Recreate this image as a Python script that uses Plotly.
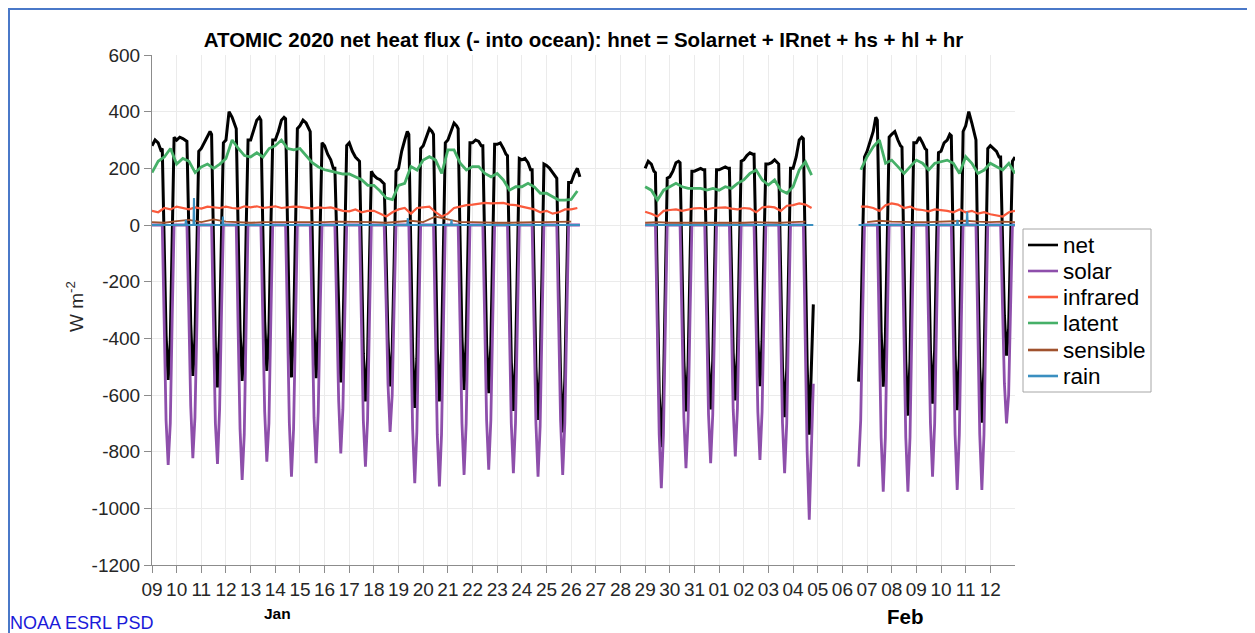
import pandas as pd
import plotly.graph_objects as go

N = None

# ---------------- data ----------------
DAYS = pd.date_range("2020-01-09", "2020-02-13", freq="D")          # 36 days
TICK_DAYS = pd.date_range("2020-01-09", "2020-02-12", freq="D")
DIURNAL_HOURS = [0, 3, 6, 8.5, 10.0, 11.8, 13.7, 15.75, 17.8, 19.7, 21.5]
FLUX_HOURS = [0, 6, 12, 18]
SENS_HOURS = [0, 12]

net_by_day = [
    [280, 300, 290, 265, 270, -30, -390, -547, -410, -40, 310],    # 09 Jan
    [300, 310, 305, 300, 295, -10, -350, -533, -400, -80, 260],    # 10
    [270, 290, 310, 330, 320, -70, -430, -573, -380, -25, 290],    # 11
    [300, 400, 380, 350, 340, -10, -370, -550, -400, -10, 300],    # 12
    [300, 340, 370, 380, 370, 0, -340, -515, -380, -10, 300],      # 13
    [300, 330, 370, 380, 375, 20, -350, -538, -380, -10, 340],     # 14
    [350, 370, 360, 340, 330, 0, -370, -541, -360, -10, 290],      # 15
    [280, 250, 230, 200, 200, -45, -365, -556, -400, -60, 280],    # 16
    [290, 260, 240, 230, 225, -95, -455, -623, -470, -120, 190],   # 17
    [175, 165, 160, 150, 145, -100, -400, -570, -445, -130, 190],  # 18
    [200, 260, 300, 330, 320, -85, -455, -646, -470, -85, 270],    # 19
    [280, 310, 340, 330, 320, -55, -435, -623, -450, -70, 290],    # 20
    [300, 330, 360, 350, 340, -35, -395, -582, -410, -50, 290],    # 21
    [290, 300, 295, 280, 280, -60, -420, -594, -425, -70, 285],    # 22
    [285, 290, 270, 250, 245, -120, -480, -656, -485, -130, 235],  # 23
    [230, 235, 220, 195, 195, -140, -500, -688, -515, -150, 215],  # 24
    [210, 200, 185, 170, 165, -190, -540, -732, -550, -185, 150],  # 25
    [150, 180, 200, 170, N, N, N, N, N, N, N],                     # 26
    [N, N, N, N, N, N, N, N, N, N, N],                             # 27
    [N, N, N, N, N, N, N, N, N, N, N],                             # 28
    [200, 225, 215, 190, 185, -215, -595, -784, -590, -200, 165],  # 29
    [170, 190, 220, 225, 220, -130, -480, -658, -495, -130, 190],  # 30
    [190, 195, 200, 195, 195, -130, -480, -651, -480, -130, 195],  # 31
    [195, 200, 205, 200, 200, -112, -452, -619, -450, -100, 225],  # 01 Feb
    [230, 245, 255, 250, 250, -60, -400, -569, -410, -70, 215],    # 02
    [215, 220, 230, 220, 215, -142, -502, -678, -510, -140, 200],  # 03
    [200, 240, 300, 310, 305, -94, -494, -740, -530, -280, N],     # 04
    [N, N, N, N, N, N, N, N, N, N, N],                             # 05
    [N, N, N, N, N, N, N, -553, -400, -50, 240],                   # 06
    [260, 300, 330, 380, 370, 15, -375, -571, -400, -50, 310],     # 07
    [320, 330, 300, 280, 275, -92, -482, -673, -480, -70, 290],    # 08
    [290, 310, 290, 270, 265, -83, -443, -631, -440, -65, 255],    # 09
    [260, 290, 300, 320, 315, -79, -459, -654, -470, -90, 330],    # 10
    [350, 400, 360, 320, 300, -123, -503, -698, -500, -110, 270],  # 11
    [280, 270, 260, 240, 240, -41, -321, -461, -365, -60, 225],    # 12
    [240, N, N, N, N, N, N, N, N, N, N],                           # 13
]

solar_by_day = [
    [0, 0, 0, 0, 0, -330, -690, -847, -700, -320, 0],
    [0, 0, 0, 0, 0, -300, -640, -823, -680, -350, 0],
    [0, 0, 0, 0, 0, -340, -700, -843, -650, -300, 0],
    [0, 0, 0, 0, 0, -360, -720, -900, -740, -340, 0],
    [0, 0, 0, 0, 0, -320, -660, -835, -700, -330, 0],
    [0, 0, 0, 0, 0, -330, -700, -888, -720, -350, 0],
    [0, 0, 0, 0, 0, -310, -680, -841, -660, -300, 0],
    [0, 0, 0, 0, 0, -300, -620, -806, -650, -310, 0],
    [0, 0, 0, 0, 0, -330, -690, -853, -690, -330, 0],
    [0, 0, 0, 0, 0, -260, -560, -730, -600, -280, 0],
    [0, 0, 0, 0, 0, -350, -720, -911, -730, -340, 0],
    [0, 0, 0, 0, 0, -360, -740, -923, -740, -350, 0],
    [0, 0, 0, 0, 0, -340, -700, -882, -700, -330, 0],
    [0, 0, 0, 0, 0, -330, -690, -864, -690, -330, 0],
    [0, 0, 0, 0, 0, -340, -700, -876, -700, -340, 0],
    [0, 0, 0, 0, 0, -340, -700, -888, -710, -340, 0],
    [0, 0, 0, 0, 0, -340, -690, -882, -700, -330, 0],
    [0, 0, 0, 0, N, N, N, N, N, N, N],
    [N, N, N, N, N, N, N, N, N, N, N],
    [N, N, N, N, N, N, N, N, N, N, N],
    [0, 0, 0, 0, 0, -360, -740, -929, -740, -350, 0],
    [0, 0, 0, 0, 0, -330, -680, -858, -690, -320, 0],
    [0, 0, 0, 0, 0, -320, -670, -841, -670, -320, 0],
    [0, 0, 0, 0, 0, -310, -650, -817, -650, -300, 0],
    [0, 0, 0, 0, 0, -320, -660, -829, -660, -310, 0],
    [0, 0, 0, 0, 0, -340, -700, -876, -700, -330, 0],
    [0, 0, 0, 0, 0, -400, -800, -1040, -820, -560, N],
    [N, N, N, N, N, N, N, N, N, N, N],
    [N, N, N, N, N, N, N, -853, -690, -320, 0],
    [0, 0, 0, 0, 0, -360, -750, -941, -750, -350, 0],
    [0, 0, 0, 0, 0, -360, -750, -941, -750, -350, 0],
    [0, 0, 0, 0, 0, -340, -700, -888, -700, -330, 0],
    [0, 0, 0, 0, 0, -360, -740, -935, -740, -350, 0],
    [0, 0, 0, 0, 0, -360, -740, -935, -740, -350, 0],
    [0, 0, 0, 0, 0, -280, -560, -700, -600, -290, 0],
    [0, N, N, N, N, N, N, N, N, N, N],
]

latent_by_day = [
    [185, 225, 240, 270], [215, 235, 225, 185], [205, 215, 200, 215],
    [235, 300, 270, 245], [240, 255, 240, 270], [280, 300, 270, 265],
    [270, 245, 220, 205], [195, 190, 185, 180], [180, 170, 160, 140],
    [140, 120, 95, 90], [140, 147, 206, 194], [229, 241, 229, 182],
    [265, 265, 218, 194], [206, 206, 182, 170], [182, 159, 123, 135],
    [135, 147, 135, 112], [112, 100, 88, 88], [90, 120, N, N],
    [N, N, N, N], [N, N, N, N],
    [135, 123, 88, 123], [135, 147, 135, 129], [129, 129, 123, 129],
    [123, 135, 129, 147], [159, 182, 194, 159], [141, 159, 123, 112],
    [135, 194, 223, 176], [N, N, N, N], [N, N, N, 195],
    [241, 276, 300, 218], [229, 206, 182, 206], [229, 218, 194, 218],
    [223, 229, 218, 182], [241, 218, 182, 194], [218, 206, 194, 218],
    [182, N, N, N],
]

infrared_by_day = [
    [50, 45, 60, 55], [65, 60, 55, 62], [58, 65, 62, 60],
    [65, 60, 58, 66], [62, 66, 60, 64], [66, 60, 62, 65],
    [64, 60, 58, 62], [60, 62, 55, 50], [48, 55, 45, 50],
    [50, 40, 30, 45], [55, 60, 40, 60], [62, 65, 45, 30],
    [40, 60, 65, 70], [72, 75, 78, 76], [76, 78, 72, 70],
    [65, 60, 55, 45], [50, 40, 45, 55], [55, 60, N, N],
    [N, N, N, N], [N, N, N, N],
    [47, 40, 30, 50], [53, 55, 50, 55], [59, 60, 55, 60],
    [60, 62, 58, 55], [60, 58, 45, 62], [65, 62, 50, 68],
    [70, 76, 72, 60], [N, N, N, N], [N, N, N, 65],
    [65, 60, 50, 70], [76, 72, 60, 65], [55, 53, 48, 55],
    [53, 50, 45, 55], [45, 50, 40, 45], [38, 35, 30, 45],
    [50, N, N, N],
]

sensible_by_day = [
    [10, 8], [14, 18], [10, 20], [12, 10], [8, 10], [10, 8], [8, 10],
    [10, 12], [12, 10], [10, 8], [12, 15], [10, 30], [20, 10], [10, 8],
    [8, 8], [10, 10], [10, 12], [12, N], [N, N], [N, N],
    [8, 10], [8, 8], [6, 8], [8, 8], [8, 10], [8, 8], [10, 12],
    [N, N], [N, N], [10, 15], [12, 10], [10, 10], [12, 15], [15, 12],
    [10, 12], [10, N],
]

rain_times = [
    "2020-01-09 00:00", "2020-01-10 08:30", "2020-01-10 09:00", "2020-01-10 09:30",
    "2020-01-10 16:20", "2020-01-10 16:50", "2020-01-10 17:20",
    "2020-01-11 20:30", "2020-01-11 21:00", "2020-01-11 21:30",
    "2020-01-19 08:30", "2020-01-19 09:00", "2020-01-19 09:30",
    "2020-01-21 03:00", "2020-01-21 03:30", "2020-01-21 04:00",
    "2020-01-26 08:30", "2020-01-27 12:00", "2020-01-29 00:00",
    "2020-02-04 19:40", "2020-02-05 12:00", "2020-02-06 15:45",
    "2020-02-10 15:30", "2020-02-10 16:00", "2020-02-10 16:30",
    "2020-02-11 01:00", "2020-02-11 01:30", "2020-02-11 02:00",
    "2020-02-13 00:00",
]
rain_values = [0, 0, 18, 0, 0, 95, 0, 0, 30, 0, 0, 24, 0, 0, 18, 0, 0, None,
               0, 0, None, 0, 0, 18, 0, 0, 47, 0, 0]

Y_TICKS = [600, 400, 200, 0, -200, -400, -600, -800, -1000, -1200]

SERIES = [
    ("net", "#000000", 3.0),
    ("solar", "#8e4fab", 2.8),
    ("infrared", "#fa5a3c", 2.2),
    ("latent", "#46b068", 2.8),
    ("sensible", "#a0522d", 1.8),
    ("rain", "#3a8fc0", 2.0),
]


def flatten(by_day, hours):
    xs, ys = [], []
    for day, vals in zip(DAYS, by_day):
        for h, v in zip(hours, vals):
            xs.append(day + pd.Timedelta(hours=h))
            ys.append(v)
    return xs, ys


data = {
    "net": flatten(net_by_day, DIURNAL_HOURS),
    "solar": flatten(solar_by_day, DIURNAL_HOURS),
    "infrared": flatten(infrared_by_day, FLUX_HOURS),
    "latent": flatten(latent_by_day, FLUX_HOURS),
    "sensible": flatten(sensible_by_day, SENS_HOURS),
    "rain": (pd.to_datetime(rain_times), rain_values),
}

fig = go.Figure()
for name, color, width in SERIES:
    xs, ys = data[name]
    fig.add_trace(go.Scatter(x=xs, y=ys, mode="lines", name=name,
                             line=dict(color=color, width=width),
                             connectgaps=False, showlegend=False))

# page body has an 8px margin: figure is placed at (8, 8) on screen
OFF = 8
W, H = 1255 - OFF, 633 - OFF
L, R, T, B = 152 - OFF, 240, 55 - OFF, 68
PW, PH = W - L - R, H - T - B


def px(xs):
    """screen x pixel -> paper x"""
    return (xs - OFF - L) / PW


def py(ys):
    """screen y pixel -> paper y"""
    return 1 - (ys - OFF - T) / PH


FONT = "Liberation Sans, Arial, Helvetica, sans-serif"
fig.update_layout(
    width=W, height=H,
    margin=dict(l=L, r=R, t=T, b=B, pad=0),
    plot_bgcolor="white", paper_bgcolor="white",
    font=dict(family=FONT, size=19, color="#262626"),
    title=dict(text="<b>ATOMIC 2020 net heat flux (- into ocean): hnet = Solarnet + IRnet + hs + hl + hr</b>",
               x=0.5, xref="paper", xanchor="center",
               y=1 - (40 - OFF) / H, yref="container", yanchor="middle",
               font=dict(family=FONT, size=20.5, color="#000000")),
    showlegend=False,
    xaxis=dict(type="date", range=["2020-01-09", "2020-02-13"],
               tickvals=list(TICK_DAYS), ticktext=[d.strftime("%d") for d in TICK_DAYS],
               ticks="outside", ticklen=7, tickcolor="#8c8c8c",
               showline=True, linecolor="#8c8c8c", linewidth=1,
               showgrid=True, gridcolor="#ebebeb", gridwidth=1,
               zeroline=False, tickfont=dict(size=19, color="#262626")),
    yaxis=dict(range=[-1200, 600], tickvals=Y_TICKS, ticktext=[str(v) for v in Y_TICKS],
               ticks="outside", ticklen=7, tickcolor="#8c8c8c",
               showline=True, linecolor="#8c8c8c", linewidth=1,
               showgrid=True, gridcolor="#ebebeb", gridwidth=1,
               zeroline=False, tickfont=dict(size=19, color="#262626")),
)

fig.add_annotation(text="W m<sup>-2</sup>", textangle=-90, x=px(75), y=py(307),
                   xref="paper", yref="paper", showarrow=False,
                   xanchor="center", yanchor="middle",
                   font=dict(family=FONT, size=19, color="#262626"))
fig.add_annotation(text="<b>Jan</b>", x=px(277), y=py(613), xref="paper", yref="paper",
                   showarrow=False, xanchor="center", yanchor="middle",
                   font=dict(family=FONT, size=15.5, color="#000000"))
fig.add_annotation(text="<b>Feb</b>", x=px(905), y=py(616), xref="paper", yref="paper",
                   showarrow=False, xanchor="center", yanchor="middle",
                   font=dict(family=FONT, size=20.5, color="#000000"))
fig.add_annotation(text="NOAA ESRL PSD", x=px(8), y=py(623), xref="paper", yref="paper",
                   showarrow=False, xanchor="left", yanchor="middle",
                   font=dict(family=FONT, size=18, color="#1a1ad9"))

# legend drawn as a boxed key (matches the reference's compact spacing)
LEG_BOX = (1023, 229, 1151, 392)
LEG_ROWS = [245, 271, 297, 323, 350, 376]
fig.add_shape(type="rect", xref="paper", yref="paper",
              x0=px(LEG_BOX[0]), x1=px(LEG_BOX[2]), y0=py(LEG_BOX[1]), y1=py(LEG_BOX[3]),
              line=dict(color="#a6a6a6", width=1), fillcolor="white", layer="above")
for (name, color, width), yrow in zip(SERIES, LEG_ROWS):
    fig.add_shape(type="line", xref="paper", yref="paper",
                  x0=px(1028), x1=px(1058), y0=py(yrow), y1=py(yrow),
                  line=dict(color=color, width=2.6), layer="above")
    fig.add_annotation(text=name, x=px(1061), y=py(yrow), xref="paper", yref="paper",
                       showarrow=False, xanchor="left", yanchor="middle",
                       font=dict(family=FONT, size=22.5, color="#000000"))

# page frame (blue border of the source document)
fig.add_shape(type="line", xref="paper", yref="paper",
              x0=px(8), x1=px(1255), y0=py(9), y1=py(9),
              line=dict(color="#4a78c8", width=2))
fig.add_shape(type="line", xref="paper", yref="paper",
              x0=px(9), x1=px(9), y0=py(9), y1=py(633),
              line=dict(color="#4a78c8", width=2))

fig.write_html("out.html", config={"displayModeBar": False})
